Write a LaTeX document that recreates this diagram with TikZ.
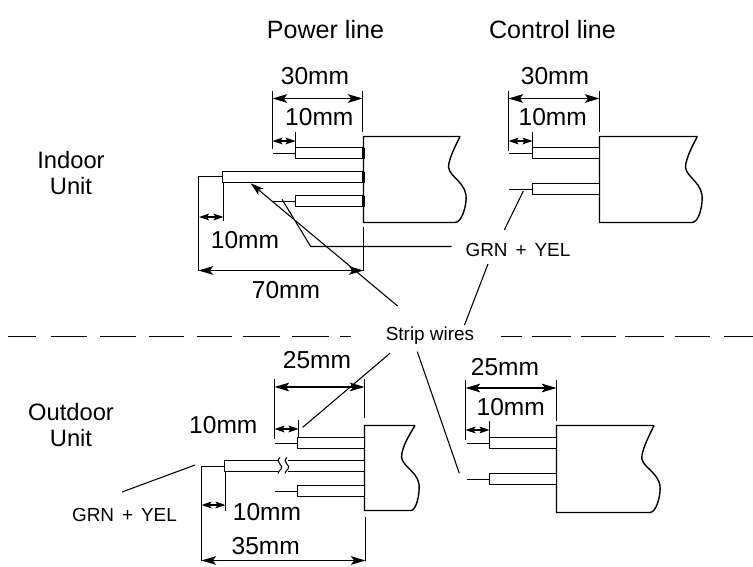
\documentclass[tikz,border=0pt]{standalone}
\usepackage{fontspec}
\setmainfont{Liberation Sans}
\usetikzlibrary{arrows.meta}
\tikzset{
  x=0.75pt,y=-0.75pt,
  part/.style={draw=black,line width=1.05pt,fill=white,line join=miter},
  strip/.style={draw=black,line width=0.85pt},
  ext/.style={draw=black,line width=0.8pt},
  leader/.style={draw=black,line width=0.8pt},
  dimbig/.style={draw=black,line width=0.85pt,{Stealth[length=11pt,width=6.5pt,inset=2.5pt]}-{Stealth[length=11pt,width=6.5pt,inset=2.5pt]}},
  dimsmall/.style={draw=black,line width=0.85pt,{Stealth[length=7.5pt,width=5pt,inset=1.5pt]}-{Stealth[length=7.5pt,width=5pt,inset=1.5pt]}},
  sep/.style={draw=black,line width=0.8pt},
  big/.style={font=\fontsize{18.4}{20}\selectfont,inner sep=0pt,align=center},
  small/.style={font=\fontsize{14.2}{16}\selectfont,inner sep=0pt},
  head/.style={font=\fontsize{18.8}{21}\selectfont,inner sep=0pt,align=center},
  unitlabel/.style={font=\fontsize{17.8}{19.5}\selectfont,inner sep=0pt,align=center},
}
\begin{document}
\begin{tikzpicture}
\useasboundingbox (0,0) rectangle (753,567);

% separator
\foreach \a/\b in {8/36,50.5/86.5,100/135.6,149/183.6,197/231.7,243/280,292/329,340/351,501/521.6,531.7/571,581/616,625/664,675/709.6,724/753}
  \draw[sep] (\a,336.5) -- (\b,336.5);

% titles
\node[head] (power) at (325.5,30) {Power line};
\node[head] (control) at (552.5,30) {Control line};
\node[unitlabel] (indoor) at (71,173) {Indoor\\Unit};
\node[unitlabel] (outdoor) at (71,425) {Outdoor\\Unit};
\node[small] (strip) at (430,336) {Strip wires};
\node[small] (grnA) at (518,249.5) {GRN\hspace{0.42em}+\hspace{0.42em}YEL};
\node[small] (grnB) at (124.5,514.5) {GRN\hspace{0.42em}+\hspace{0.42em}YEL};

% ---------- indoor power
\draw[part] (460,136.5) -- (363.5,136.5) -- (363.5,222.5) -- (455,222.5)
  .. controls (462,222.5) and (467,205) .. (466,195)
  .. controls (464,180) and (445,175) .. (449,163)
  .. controls (451,154) and (456,145) .. (460,136.5);
\draw[strip] (273,153.5) -- (296,153.5);
\draw[strip] (273,201.5) -- (296,201.5);
\draw[part] (295.5,147.5) rectangle (363.5,158.5);
\draw[part] (222.5,171.5) rectangle (363.5,182.5);
\draw[part] (295.5,195.5) rectangle (363.5,206.5);
\draw[line width=1.7pt] (363.5,147.5) -- (363.5,158.5) (363.5,171.5) -- (363.5,182.5) (363.5,195.5) -- (363.5,206.5);
\draw[ext] (272.5,91) -- (272.5,149.3);
\draw[ext] (362.5,91) -- (362.5,131.7);
\draw[ext] (295.5,131.7) -- (295.5,147.5);
\draw[dimbig] (272.5,98.5) -- (362.5,98.5);
\draw[dimsmall] (272.5,141) -- (295.5,141);
\draw[ext] (222.5,176.5) -- (198.5,176.5) -- (198.5,270.5);
\draw[ext] (223.5,182.5) -- (223.5,220.7);
\draw[ext] (363.5,226.7) -- (363.5,270.5);
\draw[dimsmall] (199,217) -- (223.5,217);
\draw[dimbig] (198.5,270.5) -- (363.5,270.5);
\node[big] (a30) at (315,75.7) {30mm};
\node[big] (a10) at (319.3,117.3) {10mm};
\node[big] (a10b) at (245,240) {10mm};
\node[big] (a70) at (286,290) {70mm};
\coordinate (g1) at (282,199.3);
\coordinate (g1b) at (310.7,246.5);
\coordinate (g1c) at (451.7,246.5);
\draw[leader] (g1) -- (g1b) -- (g1c);
\coordinate (s1) at (397.6,306);
\coordinate (s1t) at (250.7,183.3);
\draw[leader,-{Stealth[length=10pt,width=6pt,inset=2.5pt]}] (s1) -- (s1t);

% ---------- indoor control
\draw[part] (697.3,136.5) -- (599.5,136.5) -- (599.5,222.5) -- (692,222.5)
  .. controls (699,222.5) and (703,205) .. (702,195)
  .. controls (700,180) and (682,175) .. (686,163)
  .. controls (688,154) and (693,145) .. (697.3,136.5);
\draw[strip] (509.3,153.5) -- (533,153.5);
\draw[strip] (509.3,189.5) -- (533,189.5);
\draw[part] (532.5,147.5) rectangle (599.5,158.5);
\draw[part] (532.5,183.5) rectangle (599.5,194.5);
\draw[ext] (508.5,91) -- (508.5,150.7);
\draw[ext] (599.5,91) -- (599.5,131.7);
\draw[ext] (532.5,131.7) -- (532.5,147.5);
\draw[dimbig] (508.5,98.5) -- (599.5,98.5);
\draw[dimsmall] (508.5,141) -- (532.5,141);
\node[big] (b30) at (555,75.7) {30mm};
\node[big] (b10) at (552.7,116.7) {10mm};
\coordinate (g2) at (523.3,191);
\coordinate (g2b) at (504.3,230);
\draw[leader] (g2) -- (g2b);
\coordinate (s2) at (464.5,325);
\coordinate (s2b) at (488,264);
\draw[leader] (s2) -- (s2b);

% ---------- outdoor power
\draw[part] (415,425.5) -- (364.5,425.5) -- (364.5,510.5) -- (411,510.5)
  .. controls (416,510.5) and (420,495) .. (419,484)
  .. controls (417,470) and (398,465) .. (402,453)
  .. controls (404,443) and (410,434) .. (415,425.5);
\draw[strip] (275.3,443.5) -- (298,443.5);
\draw[strip] (275.3,491.5) -- (298,491.5);
\draw[part] (297.5,437.5) rectangle (364.5,448.5);
\draw[part] (297.5,485.5) rectangle (364.5,496.5);
\draw[part] (224.5,460.5) rectangle (364.5,471.5);
\fill[white] (277.5,458) rectangle (288,474.5);
\draw[ext] (280,457.5) .. controls (274,462) and (285,466) .. (281,469) .. controls (279.5,471) and (278,472) .. (278,473.5);
\draw[ext] (287,457.5) .. controls (281,462) and (292,466) .. (288,469) .. controls (286.5,471) and (285,472) .. (285,473.5);
\draw[ext] (274.5,379) -- (274.5,439);
\draw[ext] (364.5,379) -- (364.5,418.3);
\draw[ext] (298.5,420) -- (298.5,437.5);
\draw[dimbig] (274.5,387) -- (364.5,387);
\draw[dimsmall] (274.5,429) -- (298.5,429);
\draw[ext] (224.5,466.5) -- (201.5,466.5) -- (201.5,560.5);
\draw[ext] (225.5,471.5) -- (225.5,511);
\draw[ext] (365.5,516.7) -- (365.5,560.5);
\draw[dimsmall] (201.5,505) -- (225.5,505);
\draw[dimbig] (201.5,560.5) -- (365.5,560.5);
\node[big] (c25) at (317,360) {25mm};
\node[big] (c10) at (223.3,425) {10mm};
\node[big] (c10b) at (267,512.3) {10mm};
\node[big] (c35) at (265.7,545.7) {35mm};
\coordinate (s3) at (390,353.3);
\coordinate (s3b) at (302.7,427.3);
\draw[leader] (s3) -- (s3b);
\coordinate (s4) at (417.3,351.7);
\coordinate (s4b) at (459.3,473.3);
\draw[leader] (s4) -- (s4b);
\coordinate (g3) at (195,465);
\coordinate (g3b) at (122,492);
\draw[leader] (g3) -- (g3b);

% ---------- outdoor control
\draw[part] (654,425.5) -- (556.5,425.5) -- (556.5,512.5) -- (650,512.5)
  .. controls (656,512.5) and (661,496) .. (660,486)
  .. controls (658,471) and (639,466) .. (642,455)
  .. controls (644,445) and (650,434) .. (654,425.5);
\draw[strip] (466.7,443.5) -- (490,443.5);
\draw[strip] (466.7,479.5) -- (490,479.5);
\draw[part] (489.5,437.5) rectangle (556.5,448.5);
\draw[part] (489.5,473.5) rectangle (556.5,484.5);
\draw[ext] (465.5,380) -- (465.5,440);
\draw[ext] (556.5,380) -- (556.5,421);
\draw[ext] (489.5,421) -- (489.5,437.5);
\draw[dimbig] (465.5,388) -- (556.5,388);
\draw[dimsmall] (465.5,430) -- (489.5,430);
\node[big] (d25) at (505,366.7) {25mm};
\node[big] (d10) at (510.7,406.7) {10mm};
\end{tikzpicture}
\end{document}
